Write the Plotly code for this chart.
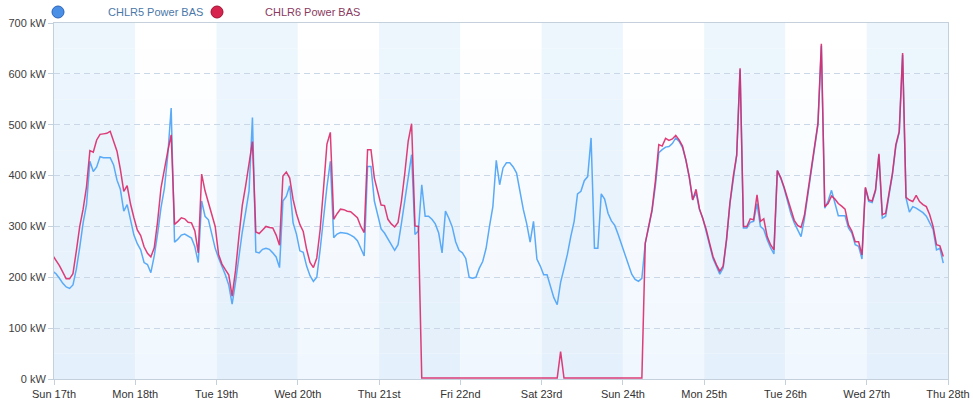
import pandas as pd
import plotly.graph_objects as go

# ---------------- data ----------------
series_names = ["CHLR5 Power BAS", "CHLR6 Power BAS"]
sample_start = "2013-03-16 23:36"   # hourly samples

chlr5_kw = [
    212,
    207, 198, 188, 181, 178, 185, 216, 259, 307, 343, 428, 408, 417, 437, 435, 435, 435, 421, 391, 373, 330, 343, 311, 283,
    266, 254, 229, 225, 209, 242, 286, 337, 375, 440, 533, 269, 275, 283, 285, 281, 277, 260, 229, 350, 320, 313, 283, 257,
    238, 222, 205, 185, 147, 190, 240, 289, 328, 370, 514, 250, 248, 255, 257, 255, 248, 240, 219, 350, 359, 380, 307, 285,
    252, 249, 222, 203, 192, 200, 255, 318, 378, 428, 278, 285, 288, 287, 286, 283, 279, 272, 255, 242, 418, 418, 350, 320,
    295, 287, 274, 264, 253, 264, 306, 352, 398, 441, 284, 291, 382, 320, 320, 314, 305, 287, 248, 330, 316, 299, 270, 253,
    248, 237, 200, 198, 200, 218, 231, 257, 300, 339, 430, 382, 415, 425, 425, 417, 405, 369, 333, 305, 269, 310, 236, 222,
    205, 205, 183, 160, 146, 190, 217, 245, 280, 310, 364, 369, 390, 398, 474, 257, 257, 364, 354, 326, 311, 302, 284, 265,
    245, 223, 206, 196, 192, 198, 267, 298, 330, 380, 445, 451, 456, 457, 463, 474, 467, 455, 430, 397, 352, 366, 333, 316,
    290, 264, 237, 222, 206, 218, 272, 345, 398, 440, 608, 297, 297, 308, 310, 345, 300, 294, 274, 258, 246, 410, 395, 375,
    350, 325, 307, 294, 280, 315, 362, 405, 458, 500, 655, 336, 350, 371, 346, 321, 321, 321, 297, 287, 264, 261, 236, 375,
    349, 347, 370, 441, 316, 320, 362, 402, 458, 485, 637, 356, 328, 339, 336, 332, 327, 320, 307, 294, 254, 257, 228,
]

chlr6_kw = [
    243,
    233, 223, 210, 197, 197, 207, 252, 300, 334, 378, 449, 446, 470, 481, 482, 483, 487, 466, 448, 412, 369, 380, 344, 317,
    293, 282, 260, 247, 240, 258, 310, 376, 416, 448, 480, 304, 310, 317, 315, 308, 307, 291, 248, 403, 370, 345, 325, 300,
    245, 226, 215, 205, 163, 213, 280, 341, 380, 420, 467, 289, 286, 293, 300, 298, 297, 283, 263, 399, 407, 395, 353, 325,
    304, 290, 255, 229, 219, 238, 294, 375, 462, 485, 314, 325, 334, 333, 330, 329, 322, 317, 300, 288, 451, 451, 395, 367,
    342, 341, 314, 305, 299, 308, 350, 405, 468, 502, 301, 300, 2, 2, 2, 2, 2, 2, 2, 2, 2, 2, 2, 2,
    2, 2, 2, 2, 2, 2, 2, 2, 2, 2, 2, 2, 2, 2, 2, 2, 2, 2, 2, 2, 2, 2, 2, 2,
    2, 2, 2, 2, 2, 54, 2, 2, 2, 2, 2, 2, 2, 2, 2, 2, 2, 2, 2, 2, 2, 2, 2, 2,
    2, 2, 2, 2, 2, 2, 267, 300, 333, 390, 461, 458, 473, 469, 472, 479, 470, 458, 431, 397, 352, 373, 335, 315,
    294, 267, 241, 225, 212, 222, 275, 346, 399, 440, 611, 300, 300, 315, 313, 362, 310, 315, 280, 264, 254, 410, 396, 377,
    355, 330, 312, 302, 298, 322, 366, 408, 460, 503, 659, 339, 345, 360, 354, 345, 340, 334, 303, 291, 270, 270, 244, 377,
    352, 350, 372, 443, 323, 326, 366, 405, 461, 487, 641, 357, 352, 349, 361, 349, 343, 339, 323, 300, 264, 262, 241,
]

day_ticks = ["2013-03-17", "2013-03-18", "2013-03-19", "2013-03-20", "2013-03-21", "2013-03-22",
             "2013-03-23", "2013-03-24", "2013-03-25", "2013-03-26", "2013-03-27", "2013-03-28"]
day_labels = ["Sun 17th", "Mon 18th", "Tue 19th", "Wed 20th", "Thu 21st", "Fri 22nd",
              "Sat 23rd", "Sun 24th", "Mon 25th", "Tue 26th", "Wed 27th", "Thu 28th"]
y_ticks = [0, 100, 200, 300, 400, 500, 600, 700]
y_labels = [f"{v} kW" for v in y_ticks]

# ---------------- figure ----------------
times = pd.date_range(sample_start, periods=len(chlr5_kw), freq="h")

fig = go.Figure()
fig.add_trace(go.Scatter(x=times, y=chlr5_kw, mode="lines", name=series_names[0],
                         line=dict(color="#5aaaf7", width=1.5), showlegend=False))
fig.add_trace(go.Scatter(x=times, y=chlr6_kw, mode="lines", name=series_names[1],
                         line=dict(color="rgba(218,40,105,0.9)", width=1.5), showlegend=False))

# alternating day bands with soft vertical gradient
shapes = []
n_strips = 14
for i in range(len(day_ticks) - 1):
    shaded = (i % 2 == 0)
    for s in range(n_strips):
        f = s / (n_strips - 1)  # 0 bottom -> 1 top
        if shaded:
            top, bot = (237, 246, 253), (228, 240, 251)
        else:
            top, bot = (255, 255, 255), (240, 247, 254)
        c = tuple(round(bot[j] + (top[j] - bot[j]) * f) for j in range(3))
        shapes.append(dict(type="rect", xref="x", yref="paper", layer="below",
                           x0=day_ticks[i], x1=day_ticks[i + 1],
                           y0=s / n_strips, y1=(s + 1) / n_strips,
                           fillcolor=f"rgb{c}", line=dict(width=0)))

# legend markers
plot_l, plot_r, plot_t, plot_b = 54, 948, 23, 379
def px_to_paper_x(px):
    return (px - plot_l) / (plot_r - plot_l)
def px_to_paper_y(py):
    return (plot_b - py) / (plot_b - plot_t)

legend_items = [
    (58, 106, "#4a8fe6", "#2a62b8", "#4a78a8"),
    (217, 263, "#d6244e", "#a0102f", "#8a3a5e"),
]
annotations = []
for (cx, tx, fill, edge, tcol), name in zip(legend_items, series_names):
    shapes.append(dict(type="circle", xref="paper", yref="paper",
                       xsizemode="pixel", ysizemode="pixel",
                       xanchor=px_to_paper_x(cx), yanchor=px_to_paper_y(12),
                       x0=-6, x1=6, y0=-6, y1=6,
                       fillcolor=fill, line=dict(color=edge, width=1)))
    annotations.append(dict(xref="paper", yref="paper", x=px_to_paper_x(tx), y=px_to_paper_y(12),
                            xanchor="left", yanchor="middle", showarrow=False, text=name,
                            font=dict(family="Liberation Sans, Arial, sans-serif", size=11, color=tcol)))

fig.update_layout(
    width=973, height=404,
    margin=dict(l=plot_l, r=973 - plot_r, t=plot_t, b=404 - plot_b, autoexpand=False),
    paper_bgcolor="white", plot_bgcolor="white",
    font=dict(family="Liberation Sans, Arial, sans-serif", size=11, color="#404040"),
    shapes=shapes, annotations=annotations,
    showlegend=False,
)
fig.update_xaxes(
    range=[day_ticks[0], day_ticks[-1]],
    tickvals=day_ticks, ticktext=day_labels, automargin=False,
    showgrid=False, zeroline=False,
    showline=True, linecolor="#c4d0dc", linewidth=1, mirror=True,
    ticks="outside", ticklen=5, tickcolor="#c4d0dc",
    tickfont=dict(size=11, color="#333333"),
)
fig.update_yaxes(
    range=[0, 700], tickvals=y_ticks, ticktext=y_labels, automargin=False,
    showgrid=True, gridcolor="#c9d7e6", griddash="6px,4px", gridwidth=1,
    zeroline=False,
    showline=True, linecolor="#c4d0dc", linewidth=1, mirror=True,
    ticks="outside", ticklen=5, tickcolor="#c4d0dc",
    tickfont=dict(size=11, color="#404040"),
)

fig.write_html("out.html")
